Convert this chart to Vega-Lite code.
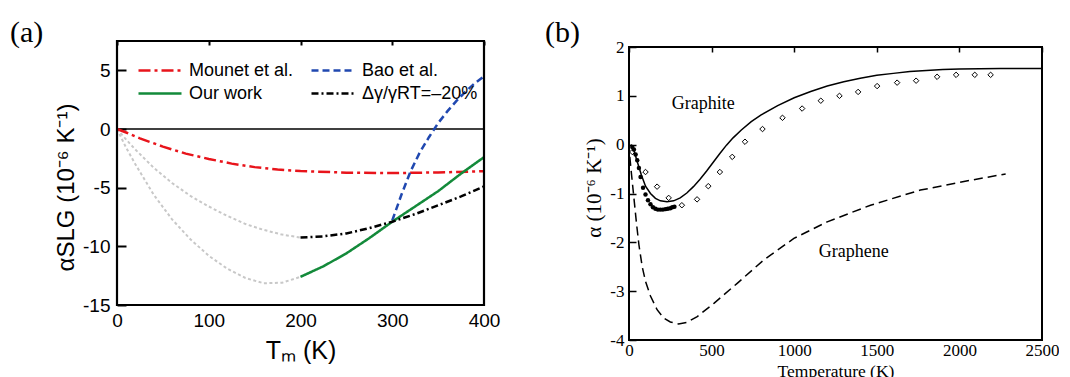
{
  "$schema": "https://vega.github.io/schema/vega-lite/v6.json",
  "background": "white",
  "padding": {"left": 10, "top": 17, "right": 0, "bottom": 0},
  "spacing": 45,
  "align": "none",
  "config": {
    "view": {"stroke": null},
    "axis": {"domain": false, "ticks": false, "grid": true, "gridColor": "black", "gridOpacity": 1, "labelColor": "black", "titleColor": "black", "labelFlush": false, "labelOverlap": false, "titleFontWeight": "normal", "zindex": 1},
    "title": {"anchor": "start", "frame": "group", "font": "Liberation Serif", "fontSize": 30, "fontWeight": "normal", "baseline": "bottom", "color": "black"}
  },
  "datasets": {
    "grayA": [
      {"curve": "u", "T": 0, "alpha": 0}, {"curve": "u", "T": 10, "alpha": -0.9}, {"curve": "u", "T": 20, "alpha": -1.75}, {"curve": "u", "T": 40, "alpha": -3.3}, {"curve": "u", "T": 60, "alpha": -4.6}, {"curve": "u", "T": 80, "alpha": -5.7}, {"curve": "u", "T": 100, "alpha": -6.6}, {"curve": "u", "T": 120, "alpha": -7.4}, {"curve": "u", "T": 140, "alpha": -8.1}, {"curve": "u", "T": 160, "alpha": -8.6}, {"curve": "u", "T": 180, "alpha": -9.0}, {"curve": "u", "T": 200, "alpha": -9.25},
      {"curve": "l", "T": 0, "alpha": 0}, {"curve": "l", "T": 10, "alpha": -1.6}, {"curve": "l", "T": 20, "alpha": -3.0}, {"curve": "l", "T": 40, "alpha": -5.6}, {"curve": "l", "T": 60, "alpha": -7.7}, {"curve": "l", "T": 80, "alpha": -9.4}, {"curve": "l", "T": 100, "alpha": -10.8}, {"curve": "l", "T": 120, "alpha": -11.9}, {"curve": "l", "T": 140, "alpha": -12.7}, {"curve": "l", "T": 160, "alpha": -13.15}, {"curve": "l", "T": 180, "alpha": -13.1}, {"curve": "l", "T": 200, "alpha": -12.6}
    ],
    "linesA": [
      {"series": "Mounet et al.", "T": 0, "alpha": 0}, {"series": "Mounet et al.", "T": 10, "alpha": -0.3}, {"series": "Mounet et al.", "T": 25, "alpha": -0.8}, {"series": "Mounet et al.", "T": 50, "alpha": -1.5}, {"series": "Mounet et al.", "T": 75, "alpha": -2.1}, {"series": "Mounet et al.", "T": 100, "alpha": -2.55}, {"series": "Mounet et al.", "T": 125, "alpha": -2.95}, {"series": "Mounet et al.", "T": 150, "alpha": -3.25}, {"series": "Mounet et al.", "T": 175, "alpha": -3.45}, {"series": "Mounet et al.", "T": 200, "alpha": -3.58}, {"series": "Mounet et al.", "T": 250, "alpha": -3.72}, {"series": "Mounet et al.", "T": 300, "alpha": -3.76}, {"series": "Mounet et al.", "T": 350, "alpha": -3.7}, {"series": "Mounet et al.", "T": 400, "alpha": -3.6},
      {"series": "Bao et al.", "T": 300, "alpha": -7.8}, {"series": "Bao et al.", "T": 310, "alpha": -5.6}, {"series": "Bao et al.", "T": 320, "alpha": -3.6}, {"series": "Bao et al.", "T": 330, "alpha": -2.0}, {"series": "Bao et al.", "T": 340, "alpha": -0.7}, {"series": "Bao et al.", "T": 350, "alpha": 0.5}, {"series": "Bao et al.", "T": 360, "alpha": 1.5}, {"series": "Bao et al.", "T": 370, "alpha": 2.4}, {"series": "Bao et al.", "T": 380, "alpha": 3.2}, {"series": "Bao et al.", "T": 390, "alpha": 3.9}, {"series": "Bao et al.", "T": 400, "alpha": 4.5},
      {"series": "Our work", "T": 200, "alpha": -12.6}, {"series": "Our work", "T": 225, "alpha": -11.7}, {"series": "Our work", "T": 250, "alpha": -10.6}, {"series": "Our work", "T": 275, "alpha": -9.3}, {"series": "Our work", "T": 300, "alpha": -7.9}, {"series": "Our work", "T": 325, "alpha": -6.6}, {"series": "Our work", "T": 350, "alpha": -5.3}, {"series": "Our work", "T": 375, "alpha": -3.8}, {"series": "Our work", "T": 400, "alpha": -2.4},
      {"series": "Δγ/γRT=–20%", "T": 200, "alpha": -9.25}, {"series": "Δγ/γRT=–20%", "T": 225, "alpha": -9.15}, {"series": "Δγ/γRT=–20%", "T": 250, "alpha": -8.9}, {"series": "Δγ/γRT=–20%", "T": 275, "alpha": -8.45}, {"series": "Δγ/γRT=–20%", "T": 300, "alpha": -7.9}, {"series": "Δγ/γRT=–20%", "T": 325, "alpha": -7.25}, {"series": "Δγ/γRT=–20%", "T": 350, "alpha": -6.5}, {"series": "Δγ/γRT=–20%", "T": 375, "alpha": -5.75}, {"series": "Δγ/γRT=–20%", "T": 400, "alpha": -4.9}
    ],
    "graphite": [
      {"T": 10, "alpha": 0.0}, {"T": 20, "alpha": -0.03}, {"T": 30, "alpha": -0.12}, {"T": 50, "alpha": -0.35}, {"T": 75, "alpha": -0.62}, {"T": 100, "alpha": -0.85}, {"T": 130, "alpha": -1.0}, {"T": 160, "alpha": -1.1}, {"T": 190, "alpha": -1.15}, {"T": 230, "alpha": -1.17}, {"T": 270, "alpha": -1.15}, {"T": 310, "alpha": -1.09}, {"T": 350, "alpha": -0.99}, {"T": 390, "alpha": -0.86}, {"T": 430, "alpha": -0.71}, {"T": 470, "alpha": -0.54}, {"T": 510, "alpha": -0.36}, {"T": 550, "alpha": -0.18}, {"T": 590, "alpha": -0.01}, {"T": 630, "alpha": 0.14}, {"T": 680, "alpha": 0.3}, {"T": 740, "alpha": 0.47}, {"T": 800, "alpha": 0.61}, {"T": 900, "alpha": 0.8}, {"T": 1000, "alpha": 0.96}, {"T": 1100, "alpha": 1.09}, {"T": 1200, "alpha": 1.2}, {"T": 1300, "alpha": 1.29}, {"T": 1400, "alpha": 1.36}, {"T": 1500, "alpha": 1.42}, {"T": 1600, "alpha": 1.46}, {"T": 1700, "alpha": 1.5}, {"T": 1800, "alpha": 1.52}, {"T": 1900, "alpha": 1.54}, {"T": 2000, "alpha": 1.55}, {"T": 2250, "alpha": 1.56}, {"T": 2500, "alpha": 1.56}
    ],
    "graphene": [
      {"T": 5, "alpha": -0.25}, {"T": 15, "alpha": -0.6}, {"T": 30, "alpha": -1.1}, {"T": 45, "alpha": -1.6}, {"T": 60, "alpha": -2.05}, {"T": 80, "alpha": -2.5}, {"T": 100, "alpha": -2.8}, {"T": 130, "alpha": -3.1}, {"T": 170, "alpha": -3.38}, {"T": 210, "alpha": -3.55}, {"T": 250, "alpha": -3.63}, {"T": 300, "alpha": -3.67}, {"T": 350, "alpha": -3.64}, {"T": 413, "alpha": -3.52}, {"T": 514, "alpha": -3.25}, {"T": 655, "alpha": -2.84}, {"T": 816, "alpha": -2.36}, {"T": 998, "alpha": -1.92}, {"T": 1200, "alpha": -1.58}, {"T": 1462, "alpha": -1.24}, {"T": 1764, "alpha": -0.93}, {"T": 2066, "alpha": -0.73}, {"T": 2280, "alpha": -0.6}
    ],
    "diamonds": [
      {"T": 20, "alpha": -0.15}, {"T": 100, "alpha": -0.56}, {"T": 170, "alpha": -0.86}, {"T": 240, "alpha": -1.09}, {"T": 320, "alpha": -1.24}, {"T": 412, "alpha": -1.12}, {"T": 480, "alpha": -0.85}, {"T": 550, "alpha": -0.56}, {"T": 625, "alpha": -0.25}, {"T": 702, "alpha": 0.06}, {"T": 808, "alpha": 0.32}, {"T": 929, "alpha": 0.55}, {"T": 1048, "alpha": 0.74}, {"T": 1161, "alpha": 0.9}, {"T": 1274, "alpha": 1.0}, {"T": 1387, "alpha": 1.08}, {"T": 1502, "alpha": 1.2}, {"T": 1623, "alpha": 1.27}, {"T": 1738, "alpha": 1.31}, {"T": 1865, "alpha": 1.39}, {"T": 1980, "alpha": 1.43}, {"T": 2093, "alpha": 1.43}, {"T": 2189, "alpha": 1.43}
    ],
    "dots": [
      {"T": 20, "alpha": -0.05}, {"T": 30, "alpha": -0.1}, {"T": 40, "alpha": -0.2}, {"T": 50, "alpha": -0.32}, {"T": 60, "alpha": -0.48}, {"T": 70, "alpha": -0.66}, {"T": 85, "alpha": -0.88}, {"T": 100, "alpha": -1.02}, {"T": 115, "alpha": -1.14}, {"T": 130, "alpha": -1.22}, {"T": 145, "alpha": -1.28}, {"T": 160, "alpha": -1.31}, {"T": 175, "alpha": -1.33}, {"T": 190, "alpha": -1.33}, {"T": 205, "alpha": -1.33}, {"T": 220, "alpha": -1.32}, {"T": 235, "alpha": -1.31}, {"T": 250, "alpha": -1.3}, {"T": 262, "alpha": -1.28}, {"T": 275, "alpha": -1.27}
    ],
    "labelsB": [
      {"label": "Graphite", "T": 450, "alpha": 0.84},
      {"label": "Graphene", "T": 1361, "alpha": -2.19}
    ]
  },
  "hconcat": [
    {
      "width": 367,
      "height": 264,
      "title": {"text": "(a)", "dx": -107, "offset": -8},
      "resolve": {"axis": {"x": "independent", "y": "independent"}},
      "layer": [
        {
          "data": {"name": "grayA"},
          "mark": {"type": "line", "color": "#c8c8c8", "strokeWidth": 2, "strokeDash": [3, 2.5]},
          "encoding": {
            "x": {"field": "T", "type": "quantitative", "scale": {"domain": [0, 400], "nice": false},
              "axis": {"orient": "bottom", "values": [0, 100, 200, 300, 400], "gridWidth": 2, "gridDash": [4, 2000], "labelPadding": 6, "labelFont": "Liberation Sans", "labelFontSize": 19, "labelExpr": "'' + datum.value", "title": "Tₘ (K)", "titleFont": "Liberation Sans", "titleFontSize": 25, "titlePadding": 8}},
            "y": {"field": "alpha", "type": "quantitative", "scale": {"domain": [-15, 7.5], "nice": false},
              "axis": {"orient": "left", "values": [5, 0, -5, -10, -15], "gridWidth": 2, "gridDash": [9, 2000], "labelPadding": 7, "labelFont": "Liberation Sans", "labelFontSize": 19, "labelExpr": "'' + datum.value", "title": "αSLG (10⁻⁶ K⁻¹)", "titleFont": "Liberation Sans", "titleFontSize": 24, "titleX": -51, "titleY": 146, "titleAlign": "center", "titleBaseline": "middle"}},
            "detail": {"field": "curve"}
          }
        },
        {
          "data": {"values": [{}]},
          "mark": {"type": "rule", "color": "black", "strokeWidth": 1.3},
          "encoding": {
            "x": {"datum": 0, "type": "quantitative", "scale": {"domain": [0, 400], "nice": false},
              "axis": {"orient": "top", "gridWidth": 2, "gridDash": [9, 2000], "values": [100, 200, 300], "labels": false, "title": null}},
            "x2": {"datum": 400},
            "y": {"datum": 0, "type": "quantitative", "scale": {"domain": [-15, 7.5], "nice": false},
              "axis": {"orient": "right", "gridWidth": 2, "gridDash": [4, 2000], "values": [5, 2.5, 0, -2.5, -5, -7.5, -10, -12.5], "labels": false, "title": null}}
          }
        },
        {
          "data": {"name": "linesA"},
          "mark": {"type": "line", "strokeWidth": 2.5},
          "encoding": {
            "x": {"field": "T", "type": "quantitative", "scale": {"domain": [0, 400], "nice": false},
              "axis": {"orient": "top", "values": [50, 150, 250, 350], "gridWidth": 2, "gridDash": [5, 2000], "labels": false, "title": null}},
            "y": {"field": "alpha", "type": "quantitative", "scale": {"domain": [-15, 7.5], "nice": false},
              "axis": {"orient": "left", "values": [2.5, -2.5, -7.5, -12.5], "gridWidth": 2, "gridDash": [5, 2000], "labels": false, "title": null}},
            "color": {"field": "series", "type": "nominal", "title": null,
              "scale": {"domain": ["Mounet et al.", "Our work", "Bao et al.", "Δγ/γRT=–20%"], "range": ["#e8141b", "#138a3a", "#2048b0", "#000000"]},
              "legend": {"orient": "none", "legendX": 20, "legendY": 18, "columns": 2, "symbolType": "stroke", "symbolSize": 1849, "symbolStrokeWidth": 2.5, "labelFont": "Liberation Sans", "labelFontSize": 18, "labelColor": "black", "clipHeight": 23, "columnPadding": 16, "rowPadding": 0, "labelOffset": 6, "padding": 0, "title": null}},
            "strokeDash": {"field": "series", "type": "nominal", "title": null,
              "scale": {"domain": ["Mounet et al.", "Our work", "Bao et al.", "Δγ/γRT=–20%"], "range": [[12, 4, 3, 4], [1, 0], [7, 4], [7, 3, 2, 3]]},
              "legend": {"orient": "none", "legendX": 20, "legendY": 18, "columns": 2, "symbolType": "stroke", "symbolSize": 1849, "symbolStrokeWidth": 2.5, "labelFont": "Liberation Sans", "labelFontSize": 18, "labelColor": "black", "clipHeight": 23, "columnPadding": 16, "rowPadding": 0, "labelOffset": 6, "padding": 0, "title": null}}
          }
        },
        {
          "data": {"values": [{}]},
          "mark": {"type": "rect", "fillOpacity": 0, "stroke": "black", "strokeWidth": 2.2},
          "encoding": {
            "x": {"datum": 0, "type": "quantitative", "scale": {"domain": [0, 400], "nice": false},
              "axis": {"orient": "bottom", "values": [50, 150, 250, 350], "gridWidth": 2, "gridDash": [4, 2000], "labels": false, "title": null}},
            "x2": {"datum": 400},
            "y": {"datum": -15, "type": "quantitative", "scale": {"domain": [-15, 7.5], "nice": false}, "axis": null},
            "y2": {"datum": 7.5}
          }
        }
      ]
    },
    {
      "width": 413,
      "height": 299,
      "title": {"text": "(b)", "dx": -84, "offset": -9.5},
      "resolve": {"axis": {"x": "independent", "y": "independent"}},
      "layer": [
        {
          "data": {"name": "graphene"},
          "mark": {"type": "line", "color": "black", "strokeWidth": 1.5, "strokeDash": [9, 5]},
          "encoding": {
            "x": {"field": "T", "type": "quantitative", "scale": {"domain": [0, 2500], "nice": false},
              "axis": {"orient": "bottom", "values": [0, 500, 1000, 1500, 2000, 2500], "gridWidth": 1.5, "gridDash": [5, 2000], "gridDashOffset": 1999, "labelPadding": 2, "labelFont": "Liberation Serif", "labelFontSize": 17, "labelExpr": "'' + datum.value", "title": "Temperature (K)", "titleFont": "Liberation Serif", "titleFontSize": 17.5, "titlePadding": 4}},
            "y": {"field": "alpha", "type": "quantitative", "scale": {"domain": [-4, 2.1229], "nice": false},
              "axis": {"orient": "left", "values": [2, 1, 0, -1, -2, -3, -4], "gridWidth": 1.5, "gridDash": [7, 2000], "labelPadding": 5, "labelFont": "Liberation Serif", "labelFontSize": 17, "labelExpr": "'' + datum.value", "title": "α (10⁻⁶ K⁻¹)", "titleFont": "Liberation Serif", "titleFontSize": 21, "titleX": -35, "titleY": 146.5, "titleAlign": "center", "titleBaseline": "middle"}}
          }
        },
        {
          "data": {"name": "graphite"},
          "mark": {"type": "line", "color": "black", "strokeWidth": 1.5},
          "encoding": {
            "x": {"field": "T", "type": "quantitative", "scale": {"domain": [0, 2500], "nice": false},
              "axis": {"orient": "top", "values": [500, 1000, 1500, 2000], "gridWidth": 1.5, "gridDash": [7, 2000], "labels": false, "title": null}},
            "y": {"field": "alpha", "type": "quantitative", "scale": {"domain": [-4, 2.1229], "nice": false},
              "axis": {"orient": "left", "values": [1.5, 0.5, -0.5, -1.5, -2.5, -3.5], "gridWidth": 1.5, "gridDash": [4, 2000], "labels": false, "title": null}}
          }
        },
        {
          "data": {"name": "diamonds"},
          "mark": {"type": "point", "shape": "diamond", "filled": false, "color": "black", "strokeWidth": 1, "size": 30, "opacity": 1},
          "encoding": {
            "x": {"field": "T", "type": "quantitative", "scale": {"domain": [0, 2500], "nice": false},
              "axis": {"orient": "top", "values": [250, 750, 1250, 1750, 2250], "gridWidth": 1.5, "gridDash": [4, 2000], "labels": false, "title": null}},
            "y": {"field": "alpha", "type": "quantitative", "scale": {"domain": [-4, 2.1229], "nice": false},
              "axis": {"orient": "right", "values": [1.5, 1, 0.5, 0, -0.5, -1, -1.5, -2, -2.5, -3, -3.5], "gridWidth": 1.5, "gridDash": [5, 2000], "labels": false, "title": null}}
          }
        },
        {
          "data": {"name": "dots"},
          "mark": {"type": "circle", "color": "black", "size": 20, "opacity": 1},
          "encoding": {
            "x": {"field": "T", "type": "quantitative", "scale": {"domain": [0, 2500], "nice": false},
              "axis": {"orient": "bottom", "values": [250, 750, 1250, 1750, 2250], "gridWidth": 1.5, "gridDash": [5, 2000], "gridDashOffset": 1999, "labels": false, "title": null}},
            "y": {"field": "alpha", "type": "quantitative", "scale": {"domain": [-4, 2.1229], "nice": false}, "axis": null}
          }
        },
        {
          "data": {"name": "labelsB"},
          "mark": {"type": "text", "font": "Liberation Serif", "fontSize": 18, "color": "black", "align": "center", "baseline": "middle"},
          "encoding": {
            "x": {"field": "T", "type": "quantitative", "scale": {"domain": [0, 2500], "nice": false}, "axis": null},
            "y": {"field": "alpha", "type": "quantitative", "scale": {"domain": [-4, 2.1229], "nice": false}, "axis": null},
            "text": {"field": "label"}
          }
        },
        {
          "data": {"values": [{}]},
          "mark": {"type": "rect", "fillOpacity": 0, "stroke": "black", "strokeWidth": 2},
          "encoding": {
            "x": {"datum": 0, "type": "quantitative", "scale": {"domain": [0, 2500], "nice": false}, "axis": null},
            "x2": {"datum": 2500},
            "y": {"datum": -4, "type": "quantitative", "scale": {"domain": [-4, 2.1229], "nice": false}, "axis": null},
            "y2": {"datum": 2}
          }
        }
      ]
    }
  ]
}
